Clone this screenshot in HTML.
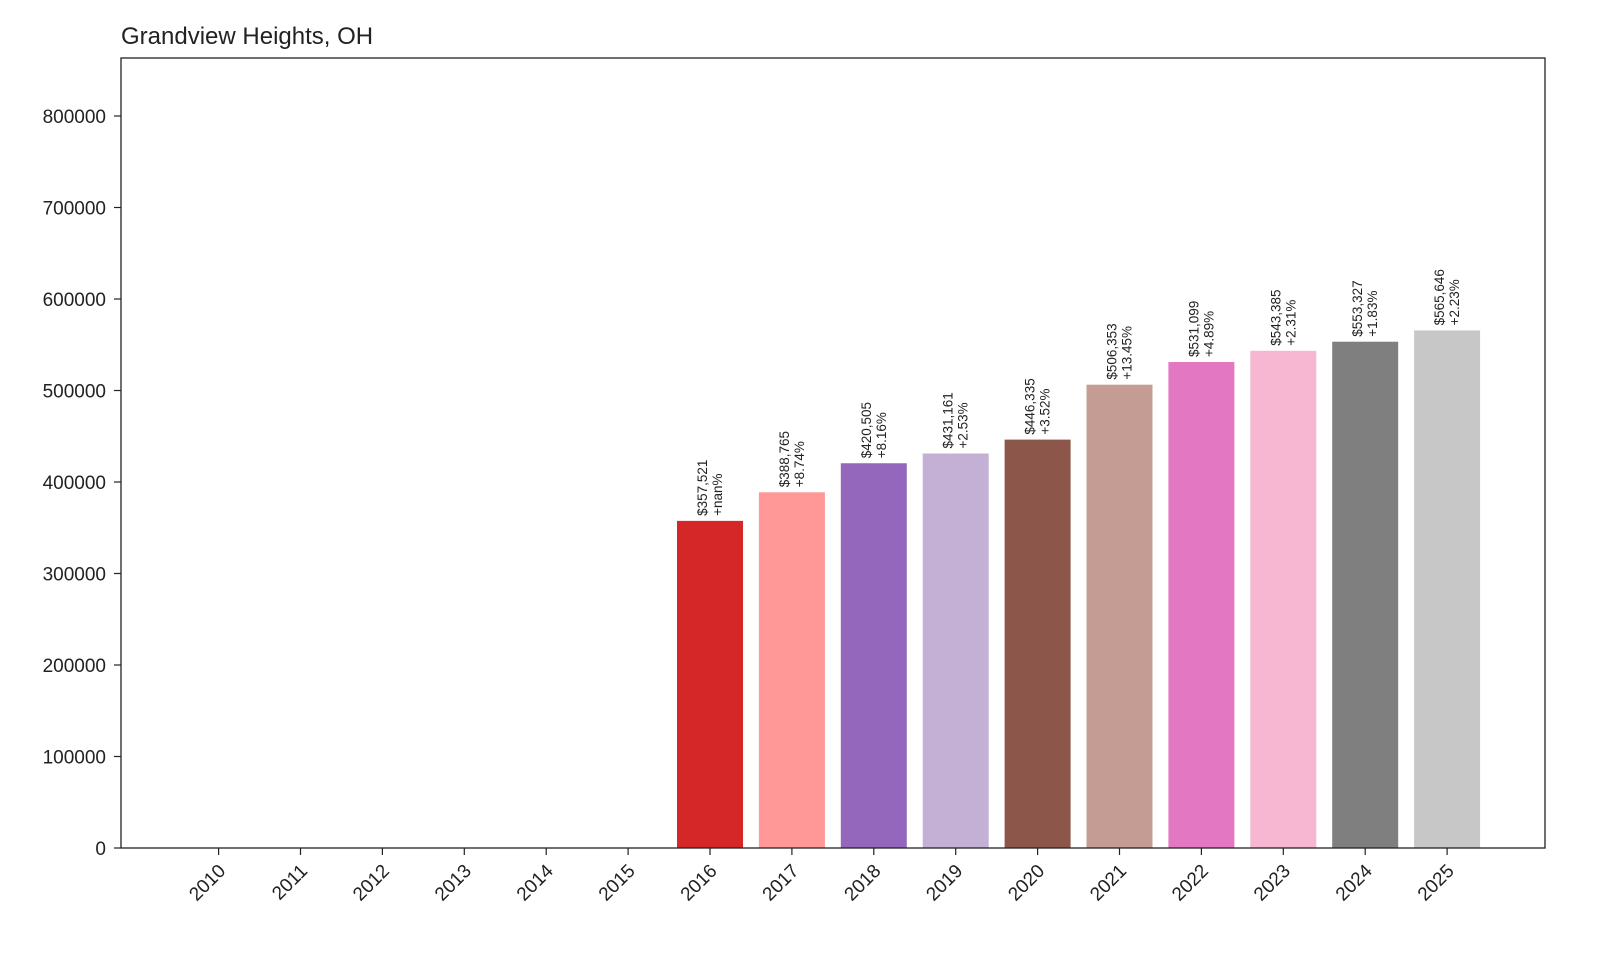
<!DOCTYPE html>
<html><head><meta charset="utf-8"><style>
body{margin:0;background:#fff;font-family:"Liberation Sans","DejaVu Sans",sans-serif;}
</style></head><body>
<svg id="chart" width="1600" height="960" xmlns="http://www.w3.org/2000/svg">
<text x="121" y="44" font-size="24" fill="#222">Grandview Heights, OH</text>
<g id="bars"></g><g id="yaxis"></g><g id="xaxis"></g>
<rect x="121" y="58" width="1424" height="790" fill="none" stroke="#222" stroke-width="1.3"/>
</svg>
<script>
const years=["2010","2011","2012","2013","2014","2015","2016","2017","2018","2019","2020","2021","2022","2023","2024","2025"];
const values=[0,0,0,0,0,0,357521,388765,420505,431161,446335,506353,531099,543385,553327,565646];
const pctLabels=["","","","","","","+nan%","+8.74%","+8.16%","+2.53%","+3.52%","+13.45%","+4.89%","+2.31%","+1.83%","+2.23%"];
const yTicks=[0,100000,200000,300000,400000,500000,600000,700000,800000];
const colors=["#1f77b4","#aec7e8","#ff7f0e","#ffbb78","#2ca02c","#98df8a","#d62728","#ff9896","#9467bd","#c5b0d5","#8c564b","#c49c94","#e377c2","#f7b6d2","#7f7f7f","#c7c7c7"];
const NS="http://www.w3.org/2000/svg";
const y=v=>848-v*(732/800000);
const x=i=>710+(i-6)*81.9;
const bw=66;
function mk(t,a,p){const e=document.createElementNS(NS,t);for(const k in a)e.setAttribute(k,a[k]);p.appendChild(e);return e;}
const gb=document.getElementById('bars'),gy=document.getElementById('yaxis'),gx=document.getElementById('xaxis');
values.forEach((v,i)=>{
  const r=mk('rect',{x:x(i)-bw/2,y:y(v),width:bw,height:848-y(v),fill:colors[i]},gb);
  
  
  if(v>0){
    const t=mk('text',{transform:`translate(${x(i)},${y(v)-5}) rotate(-90)`,'font-size':'13.5',fill:'#222'},gb);
    
    
    const s1=mk('tspan',{x:0,dy:-3},t);s1.textContent='$'+v.toLocaleString('en-US');
    const s2=mk('tspan',{x:0,dy:15},t);s2.textContent=pctLabels[i];
  }
  const tk=mk('line',{x1:x(i),x2:x(i),y1:848,y2:855,stroke:'#222','stroke-width':1.2},gx);
  
  
  const lb=mk('text',{transform:`translate(${x(i)+8},${872}) rotate(-45)`,'font-size':'19','text-anchor':'end',fill:'#222'},gx);
  
  
  lb.textContent=years[i];
});
yTicks.forEach(v=>{
  const tk=mk('line',{x1:114,x2:121,y1:y(v),y2:y(v),stroke:'#222','stroke-width':1.2},gy);
  
  
  const lb=mk('text',{x:106,y:y(v)+7,'font-size':'19','text-anchor':'end',fill:'#222'},gy);
  
  
  lb.textContent=v;
});
</script>
</body></html>
